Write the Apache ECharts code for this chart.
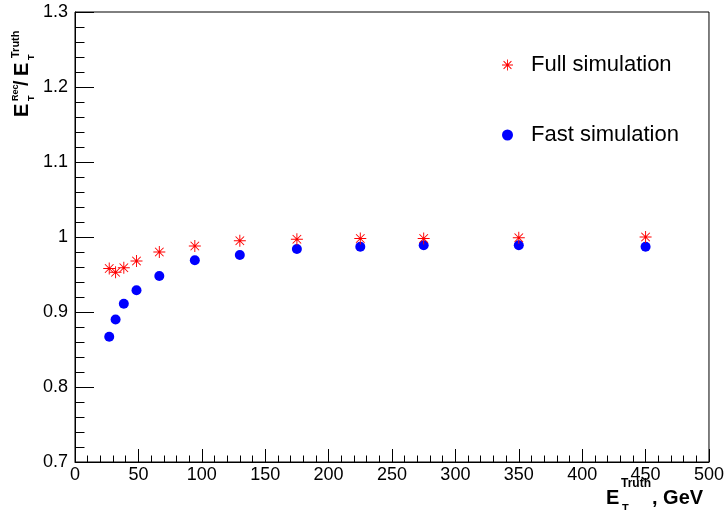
<!DOCTYPE html>
<html>
<head>
<meta charset="utf-8">
<script src="https://cdn.jsdelivr.net/npm/echarts@6/dist/echarts.min.js"></script>
<style>html,body{margin:0;padding:0;background:#fff;}#c{width:727px;height:510px;}</style>
</head>
<body>
<div id="c"></div>
<script>
var seriesNames = ['Full simulation', 'Fast simulation'];
var energyFull = [27, 32, 38.5, 48.5, 66.5, 94.5, 130, 175, 225, 275, 350, 450];
var ratioFull  = [0.958, 0.953, 0.959, 0.968, 0.980, 0.988, 0.995, 0.997, 0.998, 0.998, 0.999, 1.000];
var energyFast = [27, 32, 38.5, 48.5, 66.5, 94.5, 130, 175, 225, 275, 350, 450];
var ratioFast  = [0.867, 0.890, 0.911, 0.929, 0.948, 0.969, 0.976, 0.984, 0.987, 0.989, 0.989, 0.987];

function pairs(xs, ys) { return xs.map(function (x, i) { return [x, ys[i]]; }); }

var star = 'path://M9.2,0L10.8,0L10.8,20L9.2,20Z M0,9.2L20,9.2L20,10.8L0,10.8Z M2.3,3.5L3.5,2.3L17.7,16.5L16.5,17.7Z M16.5,2.3L17.7,3.5L3.5,17.7L2.3,16.5Z';
var FONT = '"Liberation Sans", Arial, Helvetica, sans-serif';

var chart = echarts.init(document.getElementById('c'), null, {renderer: 'canvas'});

function rt(text, x, y, size) {
  return {type: 'text', x: x, y: y, rotation: Math.PI / 2, silent: true,
    style: {text: text, font: 'bold ' + size + 'px ' + FONT, fill: '#000', align: 'left', verticalAlign: 'middle'}};
}
function ht(text, x, y, size) {
  return {type: 'text', x: x, y: y, silent: true,
    style: {text: text, font: 'bold ' + size + 'px ' + FONT, fill: '#000', align: 'left', verticalAlign: 'middle'}};
}

chart.setOption({
  animation: false,
  backgroundColor: '#fff',
  grid: {left: 75, top: 12, width: 634, height: 450, show: true, borderColor: '#000', borderWidth: 1, backgroundColor: 'transparent'},
  legend: {
    orient: 'vertical', left: 497, top: 49, itemGap: 48,
    itemWidth: 11, itemHeight: 11,
    data: seriesNames,
    textStyle: {fontFamily: FONT, fontSize: 22, color: '#000', lineHeight: 22, padding: [0, 0, 0, 13]}
  },
  xAxis: {
    type: 'value', min: 0, max: 500, interval: 50,
    axisLine: {show: true, lineStyle: {color: '#000', width: 1}},
    axisTick: {show: true, inside: true, length: 13, lineStyle: {color: '#000'}},
    minorTick: {show: true, splitNumber: 5, length: 6.5, lineStyle: {color: '#000'}},
    splitLine: {show: false},
    axisLabel: {margin: 4, fontFamily: FONT, fontSize: 18, color: '#000'}
  },
  yAxis: {
    type: 'value', min: 0.7, max: 1.3, interval: 0.1,
    axisLine: {show: true, lineStyle: {color: '#000', width: 1}},
    axisTick: {show: true, inside: true, length: 19, lineStyle: {color: '#000'}},
    minorTick: {show: true, splitNumber: 5, length: 9.5, lineStyle: {color: '#000'}},
    splitLine: {show: false},
    axisLabel: {margin: 7, fontFamily: FONT, fontSize: 18, color: '#000',
      formatter: function (v) { return String(Math.round(v * 10) / 10); }}
  },
  series: [
    {name: seriesNames[0], type: 'scatter', symbol: star, symbolSize: 12,
     itemStyle: {color: '#ff0000', opacity: 1}, data: pairs(energyFull, ratioFull), z: 3},
    {name: seriesNames[1], type: 'scatter', symbol: 'circle', symbolSize: 10,
     itemStyle: {color: '#0000ff', opacity: 1}, data: pairs(energyFast, ratioFast), z: 2}
  ],
  graphic: [
    rt('E', 22, 117, 20),
    rt('Rec', 16, 101, 9),
    rt('T', 31.5, 101, 9),
    rt('/', 22, 86, 20),
    rt('E', 22, 76, 20),
    rt('T', 31.5, 60, 9),
    rt('Truth', 16, 58, 11),
    ht('E', 606, 498, 20),
    ht('Truth', 621, 484, 12),
    ht('T', 622, 509, 11),
    ht(', GeV', 652, 498, 20)
  ]
});
</script>
</body>
</html>
